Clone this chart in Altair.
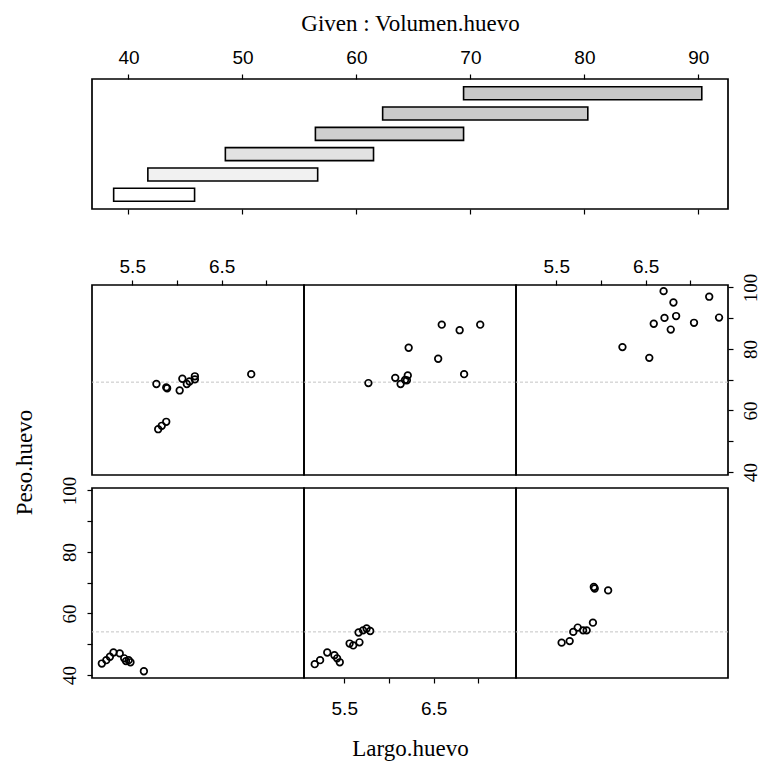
import altair as alt
import pandas as pd

# ---- Given : Volumen.huevo  (shingle intervals) ----
given_id = [1, 2, 3, 4, 5, 6]
given_lo = [38.7, 41.7, 48.5, 56.4, 62.3, 69.4]
given_hi = [45.8, 56.6, 61.5, 69.4, 80.3, 90.3]
given_ticks = [40, 50, 60, 70, 80, 90]

# ---- Largo.huevo / Peso.huevo per panel (1..3 bottom row, 4..6 top row) ----
largo_1 = [5.16, 5.21, 5.25, 5.29, 5.36, 5.41, 5.43, 5.46, 5.48, 5.63]
peso_1 = [43.7, 44.8, 45.9, 47.3, 47.0, 45.4, 44.5, 44.8, 44.1, 41.2]
largo_2 = [5.17, 5.23, 5.31, 5.39, 5.42, 5.45, 5.56, 5.60, 5.67, 5.66, 5.71, 5.75, 5.79]
peso_2 = [43.5, 44.8, 47.3, 46.4, 45.4, 44.1, 50.2, 49.6, 50.6, 53.8, 54.5, 55.1, 54.3]
largo_3 = [5.56, 5.65, 5.69, 5.74, 5.80, 5.84, 5.91, 5.92, 5.93, 6.08]
peso_3 = [50.5, 51.0, 54.0, 55.4, 54.5, 54.5, 57.0, 68.6, 68.1, 67.5]
largo_4 = [5.77, 5.88, 5.89, 6.03, 6.06, 6.11, 6.14, 6.20, 6.20, 6.83, 5.79, 5.83, 5.88]
peso_4 = [68.6, 67.5, 67.2, 66.5, 70.3, 68.6, 69.4, 71.1, 70.1, 71.8, 53.9, 55.0, 56.3]
largo_5 = [5.77, 6.07, 6.13, 6.18, 6.21, 6.20, 6.22, 6.55, 6.59, 6.79, 7.02, 6.84]
peso_5 = [68.9, 70.6, 68.6, 69.9, 71.4, 69.8, 80.4, 76.8, 87.9, 86.1, 87.9, 71.8]
largo_6 = [6.70, 7.21, 6.81, 6.84, 6.71, 6.59, 7.32, 7.04, 6.78, 6.24, 6.54]
peso_6 = [98.8, 97.0, 95.1, 90.7, 90.1, 88.2, 90.2, 88.5, 86.3, 80.6, 77.1]

# faint horizontal lines visible in the scanned panels
faint_top = [69.2]
faint_bottom = [54.0]

x_ticks = [5.5, 6.0, 6.5, 7.0]
x_labels = [5.5, 6.5]
y_ticks = [40, 50, 60, 70, 80, 90, 100]
y_labels = [40, 60, 80, 100]

SANS = "Liberation Sans"
SERIF = "Liberation Serif"
PW, PH = 212, 190
XDOM = [5.05, 7.42]
YDOM = [39.0, 100.8]

x_expr = f"indexof({x_labels}, datum.value) >= 0 ? format(datum.value, '.1f') : ''"
y_expr = f"indexof({y_labels}, datum.value) >= 0 ? format(datum.value, 'd') : ''"

common_axis = dict(domain=False, grid=False, tickSize=5, tickColor="black",
                   tickWidth=1.2, labelColor="black", labelFlush=False,
                   labelOverlap=False)


def x_axis(orient):
    if orient is None:
        return None
    kw = dict(common_axis, orient=orient, values=x_ticks, labelExpr=x_expr,
              labelFont=SANS, labelFontSize=19, labelAngle=0, title=None)
    if orient == "top":
        kw.update(labelPadding=4)
    else:
        kw.update(labelPadding=16, title="Largo.huevo", titleFont=SERIF,
                  titleFontSize=23, titleFontWeight="normal", titleColor="black",
                  titleY=70, titleBaseline="middle")
    return alt.Axis(**kw)


def y_axis(orient):
    if orient is None:
        return None
    kw = dict(common_axis, orient=orient, values=y_ticks, labelExpr=y_expr,
              labelFont=SERIF, labelFontSize=19, labelAngle=270,
              labelAlign="center", labelPadding=8, title=None)
    if orient == "right":
        kw.update(labelBaseline="top")
    else:
        kw.update(labelBaseline="bottom", title="Peso.huevo", titleFont=SERIF,
                  titleFontSize=23, titleFontWeight="normal", titleColor="black",
                  titleAngle=270, titleX=-68, titleY=-26, titleAlign="center",
                  titleBaseline="middle")
    return alt.Axis(**kw)


def panel(largo, peso, faint, xo=None, yo=None):
    df = pd.DataFrame({"largo": largo, "peso": peso})
    fdf = pd.DataFrame({"peso": faint})
    yenc = alt.Y("peso:Q", scale=alt.Scale(domain=YDOM, nice=False, zero=False),
                 axis=y_axis(yo))
    lines = alt.Chart(fdf).mark_rule(color="#c4c4c4", strokeWidth=1,
                                     strokeDash=[3, 2]).encode(y=yenc)
    pts = alt.Chart(df).mark_point(shape="circle", filled=False, color="black",
                                   size=44, strokeWidth=1.7, opacity=1).encode(
        x=alt.X("largo:Q", scale=alt.Scale(domain=XDOM, nice=False, zero=False),
                axis=x_axis(xo)),
        y=yenc,
    )
    return alt.layer(lines, pts).properties(width=PW, height=PH)


p4 = panel(largo_4, peso_4, faint_top, xo="top")
p5 = panel(largo_5, peso_5, faint_top)
p6 = panel(largo_6, peso_6, faint_top, xo="top", yo="right")
p1 = panel(largo_1, peso_1, faint_bottom, yo="left")
p2 = panel(largo_2, peso_2, faint_bottom, xo="bottom")
p3 = panel(largo_3, peso_3, faint_bottom)

grid = alt.concat(p4, p5, p6, p1, p2, p3, columns=3,
                  spacing={"row": 13, "column": 0}, bounds="flush")

# ---- top "Given" panel ----
gdf = pd.DataFrame({"interval": given_id, "lo": given_lo, "hi": given_hi})
gx_scale = alt.Scale(domain=[36.8, 92.6], nice=False, zero=False)
gy = alt.Y("interval:O", sort="descending",
           scale=alt.Scale(paddingInner=0.36, paddingOuter=0.38), axis=None)

g_top_axis = alt.Axis(**common_axis, orient="top", values=given_ticks, labelFont=SANS,
                      labelFontSize=19, labelPadding=7, labelAngle=0,
                      title="Given : Volumen.huevo", titleFont=SERIF, titleFontSize=23,
                      titleFontWeight="normal", titleColor="black", titleY=-49,
                      titleBaseline="alphabetic")
g_bot_axis = alt.Axis(**common_axis, orient="bottom", values=given_ticks, labels=False,
                      title=None)

bars = alt.Chart(gdf).mark_bar(stroke="black", strokeWidth=1.6).encode(
    x=alt.X("lo:Q", scale=gx_scale, axis=g_top_axis),
    x2="hi:Q",
    y=gy,
    color=alt.Color("interval:O", legend=None,
                    scale=alt.Scale(range=["#ffffff", "#f1f1f1", "#e2e2e2",
                                           "#cfcfcf", "#cbcbcb", "#c8c8c8"])),
)
ghost = alt.Chart(gdf).mark_bar(opacity=0).encode(
    x=alt.X("lo:Q", scale=gx_scale, axis=g_bot_axis),
    x2="hi:Q",
    y=gy,
)
given = alt.layer(bars, ghost).resolve_axis(x="independent").properties(
    width=636, height=130)

chart = alt.vconcat(given, grid, spacing=76, bounds="flush").properties(
    autosize=alt.AutoSizeParams(type="none"),
    padding={"left": 92, "top": 79, "right": 671, "bottom": 682},
    background="white",
).configure_view(stroke="black", strokeWidth=1.7)

chart.save("out.html", embed_options={"renderer": "svg", "actions": False})
